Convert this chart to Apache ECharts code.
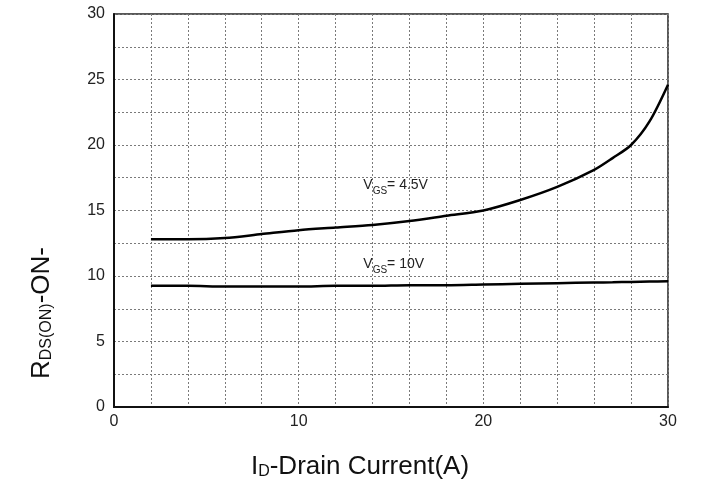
<!DOCTYPE html>
<html>
<head>
<meta charset="utf-8">
<script src="https://cdn.jsdelivr.net/npm/echarts@6/dist/echarts.min.js"></script>
<style>
  html, body { margin: 0; padding: 0; background: #fff; }
  #chart { width: 723px; height: 485px; }
</style>
</head>
<body>
<div id="chart"></div>
<script>
// Drain current (A) sample points
const drainCurrent = [2, 4, 6, 8, 10, 12, 14, 16, 18, 20, 22, 24, 26, 27, 28, 29, 30];
// On-resistance (mΩ) at VGS = 4.5 V
const rdsVgs45 = [12.8, 12.8, 12.9, 13.2, 13.5, 13.7, 13.9, 14.2, 14.6, 15.0, 15.8, 16.8, 18.1, 19.0, 20.0, 21.8, 24.6];
// On-resistance (mΩ) at VGS = 10 V
const rdsVgs10 = [9.25, 9.25, 9.2, 9.2, 9.2, 9.25, 9.25, 9.3, 9.3, 9.35, 9.4, 9.45, 9.5, 9.52, 9.55, 9.58, 9.6];

// Curve annotations: [x, y, gate-source voltage text]
const curveNotes = [
  [13.5, 16.95, '= 4.5V'],
  [13.5, 10.9, '= 10V']
];

const FONT = '"Liberation Sans", Arial, sans-serif';
const chart = echarts.init(document.getElementById('chart'));

const gridLine = { show: true, lineStyle: { color: '#7a7a7a', type: [2, 2], width: 1 } };

chart.setOption({
  animation: false,
  backgroundColor: '#fff',
  grid: {
    left: 114, right: 55, top: 14, bottom: 78,
    show: true, borderColor: '#222', borderWidth: 1.5, backgroundColor: 'transparent'
  },
  xAxis: {
    type: 'value', min: 0, max: 30, interval: 2,
    axisLine: { show: true, lineStyle: { color: '#111', width: 2 } },
    axisTick: { show: false },
    splitLine: gridLine,
    axisLabel: {
      color: '#222', fontFamily: FONT, fontSize: 16, margin: 7,
      formatter: v => (v % 10 === 0 ? String(v) : '')
    }
  },
  yAxis: {
    type: 'value', min: 0, max: 30, interval: 2.5,
    axisLine: { show: true, lineStyle: { color: '#111', width: 2 } },
    axisTick: { show: false },
    splitLine: gridLine,
    axisLabel: {
      color: '#222', fontFamily: FONT, fontSize: 16, margin: 9,
      formatter: v => (v % 5 === 0 ? String(v) : '')
    }
  },
  series: [
    {
      name: 'VGS=4.5V', type: 'line', smooth: 0.3, showSymbol: false,
      lineStyle: { color: '#000', width: 2.5 },
      data: drainCurrent.map((x, i) => [x, rdsVgs45[i]])
    },
    {
      name: 'VGS=10V', type: 'line', smooth: 0.3, showSymbol: false,
      lineStyle: { color: '#000', width: 2.5 },
      data: drainCurrent.map((x, i) => [x, rdsVgs10[i]])
    }
  ]
});

// Place curve annotations and axis titles
const notes = curveNotes.map(([x, y, t]) => {
  const p = chart.convertToPixel({ gridIndex: 0 }, [x, y]);
  return {
    type: 'text', left: p[0], top: p[1] - 8,
    style: {
      text: '{v|V}{s|GS}{v|' + t + '}',
      rich: {
        v: { fontFamily: FONT, fontSize: 14, fill: '#222', verticalAlign: 'top', lineHeight: 18 },
        s: { fontFamily: FONT, fontSize: 10, fill: '#222', verticalAlign: 'bottom', lineHeight: 18, padding: [9, 0, 0, 0] }
      }
    }
  };
});

chart.setOption({
  graphic: notes.concat([
    {
      type: 'text', x: 42, y: 313, rotation: Math.PI / 2,
      style: {
        text: '{b|R}{s|DS(ON)}{b|-ON-}',
        align: 'center', verticalAlign: 'middle',
        rich: {
          b: { fontFamily: FONT, fontSize: 26, fill: '#111' },
          s: { fontFamily: FONT, fontSize: 16, fill: '#111', padding: [9, 0, 0, 0] }
        }
      }
    },
    {
      type: 'text', x: 360, y: 467,
      style: {
        text: '{b|I}{s|D}{b|-Drain Current(A)}',
        align: 'center', verticalAlign: 'middle',
        rich: {
          b: { fontFamily: FONT, fontSize: 26, fill: '#111' },
          s: { fontFamily: FONT, fontSize: 16, fill: '#111', padding: [9, 0, 0, 0] }
        }
      }
    }
  ])
});
</script>
</body>
</html>
